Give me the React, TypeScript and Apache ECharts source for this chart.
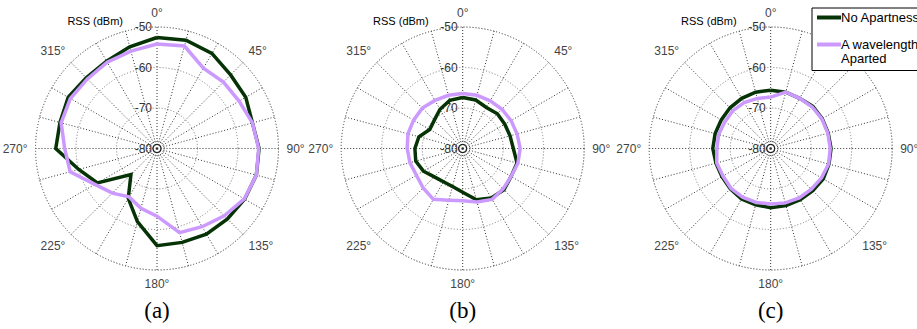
import React, { useEffect, useRef } from "react";
import * as echarts from "echarts";

const ANGLES = [0, 15, 30, 45, 60, 75, 90, 105, 120, 135, 150, 165, 180, 195, 210, 225, 240, 255, 270, 285, 300, 315, 330, 345];

const NAME_DARK = "No Apartness";
const NAME_PURPLE = "A wavelength\nAparted";

// (a)
const A_DARK = [-52.6, -52.3, -52.9, -54.3, -54.7, -55.6, -54.8, -54.6, -55.0, -55.4, -55.6, -56.0, -56.0, -61.3, -65.8, -70.9, -63.0, -60.0, -55.0, -55.2, -54.7, -55.3, -55.1, -54.0];
const A_PURPLE = [-54.2, -53.8, -57.1, -56.8, -56.6, -55.6, -54.9, -54.6, -55.1, -56.5, -57.7, -58.5, -63.3, -64.7, -66.2, -64.4, -62.3, -57.8, -57.2, -55.5, -55.3, -55.7, -55.4, -55.1];
// (b)
const B_DARK = [-67.4, -67.6, -68.3, -67.9, -68.0, -67.9, -67.5, -66.1, -66.2, -65.6, -65.9, -66.9, -69.2, -70.3, -70.5, -70.1, -68.8, -68.0, -68.2, -68.8, -70.6, -70.1, -68.8, -67.7];
const B_PURPLE = [-66.4, -66.4, -66.4, -66.3, -66.2, -66.1, -65.8, -65.9, -66.2, -65.9, -65.5, -66.3, -67.1, -66.8, -65.5, -66.2, -66.8, -66.5, -66.3, -66.0, -66.0, -65.9, -66.3, -66.4];
// (c)
const C_DARK = [-65.6, -65.6, -65.7, -65.3, -65.3, -65.3, -65.1, -65.1, -65.0, -65.3, -65.4, -65.4, -65.4, -65.6, -65.6, -65.9, -66.1, -66.0, -65.7, -65.8, -65.9, -65.8, -65.7, -65.6];
const C_PURPLE = [-67.3, -65.6, -65.7, -65.5, -65.4, -65.4, -65.3, -65.2, -65.5, -65.8, -65.9, -66.1, -66.3, -66.2, -66.1, -66.1, -66.4, -66.2, -66.7, -66.7, -66.9, -66.8, -66.9, -67.2];

const R_MIN = -80;
const R_MAX = -50;
const R_STEP = 10;
const CAPTIONS = ["(a)", "(b)", "(c)"];
const AXIS_TITLE = "RSS (dBm)";

const CENTERS_X = [157, 462.7, 770.7];
const CENTER_Y = 148.5;
const RADIUS = 121.5;

const DARK = "#053305";
const PURPLE = "#cc99ff";

function closed(values: number[]) {
  const pts = values.map((v, i) => [v, ANGLES[i]]);
  pts.push([values[0], 360]);
  return pts;
}

export default function App() {
  const ref = useRef<HTMLDivElement>(null);
  useEffect(() => {
    if (!ref.current) return;
    const chart = echarts.init(ref.current, undefined, { renderer: "svg" });
    const sets = [
      [A_DARK, A_PURPLE],
      [B_DARK, B_PURPLE],
      [C_DARK, C_PURPLE],
    ];
    const polar = CENTERS_X.map((cx) => ({ center: [cx, CENTER_Y], radius: RADIUS }));
    const angleAxis = CENTERS_X.map((_, i) => ({
      polarIndex: i,
      type: "value",
      min: 0,
      max: 360,
      interval: 15,
      startAngle: 90,
      clockwise: true,
      axisLine: { show: true, lineStyle: { color: "#777", type: [1, 2], width: 1 } },
      axisTick: { show: false },
      axisLabel: {
        margin: 8,
        color: "#444",
        fontSize: 12,
        fontFamily: "Liberation Sans",
        formatter: (v: number) => (v % 45 === 0 && v !== 360 ? v + "°" : ""),
      },
      splitLine: { show: true, lineStyle: { color: "#333", type: [1, 2], width: 1 } },
    }));
    const radiusAxis = CENTERS_X.map((_, i) => ({
      polarIndex: i,
      type: "value",
      min: R_MIN,
      max: R_MAX,
      interval: R_STEP,
      axisLine: { show: false },
      axisTick: { show: false },
      axisLabel: {
        color: "#333",
        fontSize: 12,
        fontFamily: "Liberation Sans",
        margin: 5,
      },
      splitLine: { show: true, lineStyle: { color: "#777", type: [1, 2], width: 1 } },
    }));
    const series: any[] = [];
    sets.forEach((pair, i) => {
      series.push({
        name: NAME_DARK,
        type: "line",
        coordinateSystem: "polar",
        polarIndex: i,
        data: closed(pair[0]),
        symbol: "none",
        lineStyle: { color: DARK, width: 3.5, join: "miter" },
        itemStyle: { color: DARK },
        z: 3,
      });
      series.push({
        name: NAME_PURPLE,
        type: "line",
        coordinateSystem: "polar",
        polarIndex: i,
        data: closed(pair[1]),
        symbol: "none",
        lineStyle: { color: PURPLE, width: 3.5, join: "miter" },
        itemStyle: { color: PURPLE },
        z: 4,
      });
      series.push({
        type: "scatter",
        coordinateSystem: "polar",
        polarIndex: i,
        data: [[R_MIN, 0]],
        symbol: "circle",
        symbolSize: 15,
        silent: true,
        itemStyle: { color: "transparent", borderColor: "#555", borderWidth: 1, borderType: [1, 1.5] },
        z: 5,
      });
      series.push({
        type: "scatter",
        coordinateSystem: "polar",
        polarIndex: i,
        data: [[R_MIN, 0]],
        symbol: "circle",
        symbolSize: 8,
        silent: true,
        itemStyle: { color: "#fff", borderColor: "#000", borderWidth: 1.3 },
        z: 6,
      });
      series.push({
        type: "scatter",
        coordinateSystem: "polar",
        polarIndex: i,
        data: [[R_MIN, 0]],
        symbol: "circle",
        symbolSize: 2.5,
        silent: true,
        itemStyle: { color: "#000" },
        z: 7,
      });
    });
    const graphic: any[] = [];
    CENTERS_X.forEach((cx, i) => {
      graphic.push({
        type: "text",
        x: cx - 34,
        y: 21,
        style: { text: AXIS_TITLE, align: "right", verticalAlign: "middle", fontSize: 11, fontFamily: "Liberation Sans", fill: "#000" },
      });
      graphic.push({
        type: "text",
        x: cx,
        y: 310,
        style: { text: CAPTIONS[i], align: "center", verticalAlign: "middle", fontSize: 23, fontFamily: "Liberation Serif", fill: "#000" },
      });
    });
    chart.setOption({
      animation: false,
      textStyle: { fontFamily: "Liberation Sans" },
      polar,
      angleAxis,
      radiusAxis,
      legend: {
        data: [NAME_DARK, NAME_PURPLE],
        orient: "vertical",
        left: 812,
        top: 8,
        padding: [3, 20, 6, 5],
        itemGap: 0,
        itemWidth: 24,
        itemHeight: 4,
        icon: "rect",
        backgroundColor: "#fff",
        borderColor: "#000",
        borderWidth: 1,
        borderRadius: 0,
        formatter: (name: string) => {
          if (name === NAME_PURPLE) {
            const parts = name.split("\n");
            return "{p| }\n{t|" + parts[0] + "}\n{t|" + parts[1] + "}";
          }
          return "{t|" + name + "}";
        },
        textStyle: {
          fontSize: 13,
          color: "#000",
          fontFamily: "Liberation Sans",
          padding: [0, 0, 0, -5],
          rich: {
            p: { fontSize: 1, lineHeight: 13, height: 13 },
            t: { fontSize: 13, lineHeight: 14, color: "#000", fontFamily: "Liberation Sans" },
          },
        },
        z: 10,
      },
      series,
      graphic,
    });
    return () => chart.dispose();
  }, []);
  return <div ref={ref} style={{ position: "fixed", left: 0, top: 0, width: 917, height: 329, background: "#fff" }} />;
}
